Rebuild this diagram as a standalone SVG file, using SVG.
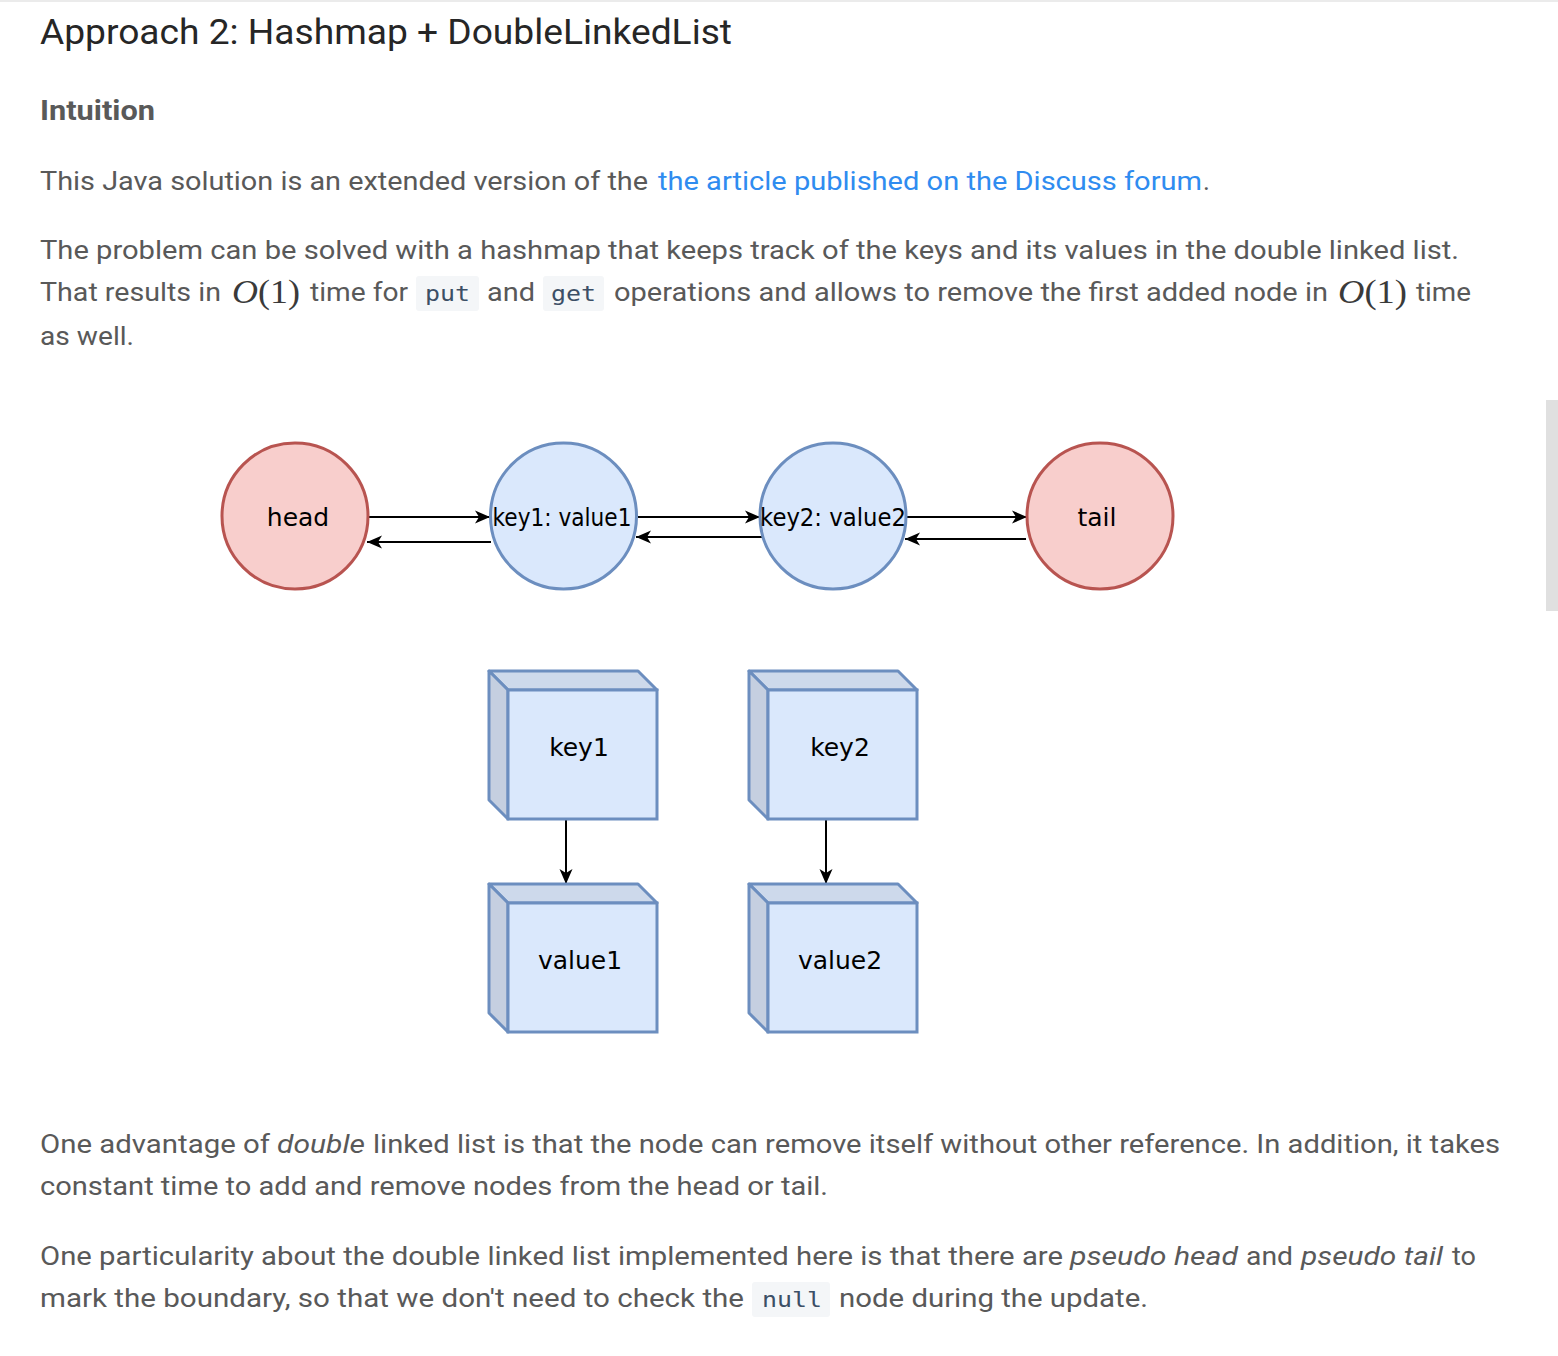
<svg xmlns="http://www.w3.org/2000/svg" width="1558" height="1356" viewBox="0 0 1558 1356">
<style>
.body{font-family:Roboto,"Liberation Sans",sans-serif;font-size:26px;fill:#595959;}
.it{font-style:italic;}
.link{fill:#2f8cf0;}
.code{font-family:"DejaVu Sans Mono","Liberation Mono",monospace;font-size:21px;fill:#3c4f66;}
.codebg{fill:#f4f6f8;}
.math{font-family:"Liberation Serif",serif;font-size:33px;fill:#3a3a3a;}
.lbl{font-family:"DejaVu Sans","Liberation Sans",sans-serif;font-size:25px;fill:#000;text-anchor:middle;}
.red{fill:#f8cecc;stroke:#b85450;stroke-width:3;}
.blue{fill:#dae8fc;stroke:#6c8ebf;stroke-width:3;}
.top{fill:#cdd9eb;stroke:#6c8ebf;stroke-width:3;stroke-linejoin:round;}
.side{fill:#c5cfe0;stroke:#6c8ebf;stroke-width:3;stroke-linejoin:round;}
.edge{stroke:#000;stroke-width:2;fill:none;marker-end:url(#arr);}
</style>
<defs>
<marker id="arr" markerUnits="userSpaceOnUse" markerWidth="16" markerHeight="14" refX="15" refY="7" orient="auto">
<path d="M0,0.5 L15,7 L0,13.5 L4,7 z" fill="#000"/>
</marker>
</defs>
<rect x="0" y="0" width="1558" height="1356" fill="#fff"/>
<rect x="0" y="0" width="1558" height="2" fill="#ebebeb"/>
<rect x="1546" y="400" width="12" height="211" fill="#e0e0e0"/>

<g id="page-text">
<text x="40" y="44" font-family="Roboto,'Liberation Sans',sans-serif" font-size="35" fill="#262626" textLength="692" lengthAdjust="spacingAndGlyphs">Approach 2: Hashmap + DoubleLinkedList</text>
<text x="40" y="120" font-family="Roboto,'Liberation Sans',sans-serif" font-size="28" font-weight="bold" fill="#595959" textLength="115" lengthAdjust="spacingAndGlyphs">Intuition</text>

<text class="body" x="40" y="190" textLength="608" lengthAdjust="spacingAndGlyphs">This Java solution is an extended version of the</text>
<text class="body link" x="658" y="190" textLength="544" lengthAdjust="spacingAndGlyphs">the article published on the Discuss forum</text>
<text class="body" x="1203" y="190">.</text>

<text class="body" x="40" y="259" textLength="1419" lengthAdjust="spacingAndGlyphs">The problem can be solved with a hashmap that keeps track of the keys and its values in the double linked list.</text>

<text class="body" x="40" y="301" textLength="181" lengthAdjust="spacingAndGlyphs">That results in</text>
<text class="math" x="232" y="303" textLength="68" lengthAdjust="spacingAndGlyphs"><tspan font-style="italic">O</tspan><tspan>(1)</tspan></text>
<text class="body" x="310" y="301" textLength="98" lengthAdjust="spacingAndGlyphs">time for</text>
<rect class="codebg" x="416" y="276" width="63" height="35" rx="3"/>
<text class="code" x="425" y="301" textLength="45" lengthAdjust="spacingAndGlyphs">put</text>
<text class="body" x="487" y="301" textLength="48" lengthAdjust="spacingAndGlyphs">and</text>
<rect class="codebg" x="543" y="276" width="61" height="35" rx="3"/>
<text class="code" x="551" y="301" textLength="45" lengthAdjust="spacingAndGlyphs">get</text>
<text class="body" x="614" y="301" textLength="714" lengthAdjust="spacingAndGlyphs">operations and allows to remove the first added node in</text>
<text class="math" x="1338" y="303" textLength="69" lengthAdjust="spacingAndGlyphs"><tspan font-style="italic">O</tspan><tspan>(1)</tspan></text>
<text class="body" x="1416" y="301" textLength="55" lengthAdjust="spacingAndGlyphs">time</text>
<text class="body" x="40" y="345" textLength="94" lengthAdjust="spacingAndGlyphs">as well.</text>

<text class="body" x="40" y="1153" textLength="230" lengthAdjust="spacingAndGlyphs">One advantage of</text>
<text class="body it" x="277" y="1153" textLength="88" lengthAdjust="spacingAndGlyphs">double</text>
<text class="body" x="373" y="1153" textLength="1127" lengthAdjust="spacingAndGlyphs">linked list is that the node can remove itself without other reference. In addition, it takes</text>
<text class="body" x="40" y="1195" textLength="788" lengthAdjust="spacingAndGlyphs">constant time to add and remove nodes from the head or tail.</text>

<text class="body" x="40" y="1265" textLength="1023" lengthAdjust="spacingAndGlyphs">One particularity about the double linked list implemented here is that there are</text>
<text class="body it" x="1070" y="1265" textLength="168" lengthAdjust="spacingAndGlyphs">pseudo head</text>
<text class="body" x="1246" y="1265" textLength="47" lengthAdjust="spacingAndGlyphs">and</text>
<text class="body it" x="1301" y="1265" textLength="142" lengthAdjust="spacingAndGlyphs">pseudo tail</text>
<text class="body" x="1452" y="1265" textLength="24" lengthAdjust="spacingAndGlyphs">to</text>
<text class="body" x="40" y="1307" textLength="704" lengthAdjust="spacingAndGlyphs">mark the boundary, so that we don't need to check the</text>
<rect class="codebg" x="752" y="1282" width="78" height="35" rx="3"/>
<text class="code" x="762" y="1307" textLength="60" lengthAdjust="spacingAndGlyphs">null</text>
<text class="body" x="839" y="1307" textLength="309" lengthAdjust="spacingAndGlyphs">node during the update.</text>
</g>

<g id="connectors">
<line class="edge" x1="369" y1="517" x2="490" y2="517"/>
<line class="edge" x1="491" y1="542" x2="367" y2="542"/>
<line class="edge" x1="638" y1="517" x2="760" y2="517"/>
<line class="edge" x1="763" y1="537" x2="636" y2="537"/>
<line class="edge" x1="907" y1="517" x2="1027" y2="517"/>
<line class="edge" x1="1026" y1="539" x2="905" y2="539"/>
<line class="edge" x1="566" y1="820" x2="566" y2="884"/>
<line class="edge" x1="826" y1="820" x2="826" y2="884"/>
</g>

<g id="node-head">
<circle class="red" cx="295" cy="516" r="73"/>
<text class="lbl" x="298" y="526">head</text>
</g>
<g id="node-key1value1">
<circle class="blue" cx="563.5" cy="516" r="73"/>
<text class="lbl" x="562" y="526" textLength="139" lengthAdjust="spacingAndGlyphs">key1: value1</text>
</g>
<g id="node-key2value2">
<circle class="blue" cx="833" cy="516" r="73"/>
<text class="lbl" x="833" y="526" textLength="146" lengthAdjust="spacingAndGlyphs">key2: value2</text>
</g>
<g id="node-tail">
<circle class="red" cx="1100" cy="516" r="73"/>
<text class="lbl" x="1097" y="526">tail</text>
</g>

<g id="node-key1">
<polygon class="top" points="489,671 638,671 657,690 508,690"/>
<polygon class="side" points="489,671 508,690 508,819 489,800"/>
<rect class="blue" x="508" y="690" width="149" height="129"/>
<text class="lbl" x="579" y="756">key1</text>
</g>
<g id="node-value1">
<polygon class="top" points="489,884 638,884 657,903 508,903"/>
<polygon class="side" points="489,884 508,903 508,1032 489,1013"/>
<rect class="blue" x="508" y="903" width="149" height="129"/>
<text class="lbl" x="580" y="969">value1</text>
</g>
<g id="node-key2">
<polygon class="top" points="749,671 898,671 917,690 768,690"/>
<polygon class="side" points="749,671 768,690 768,819 749,800"/>
<rect class="blue" x="768" y="690" width="149" height="129"/>
<text class="lbl" x="840" y="756">key2</text>
</g>
<g id="node-value2">
<polygon class="top" points="749,884 898,884 917,903 768,903"/>
<polygon class="side" points="749,884 768,903 768,1032 749,1013"/>
<rect class="blue" x="768" y="903" width="149" height="129"/>
<text class="lbl" x="840" y="969">value2</text>
</g>
</svg>
